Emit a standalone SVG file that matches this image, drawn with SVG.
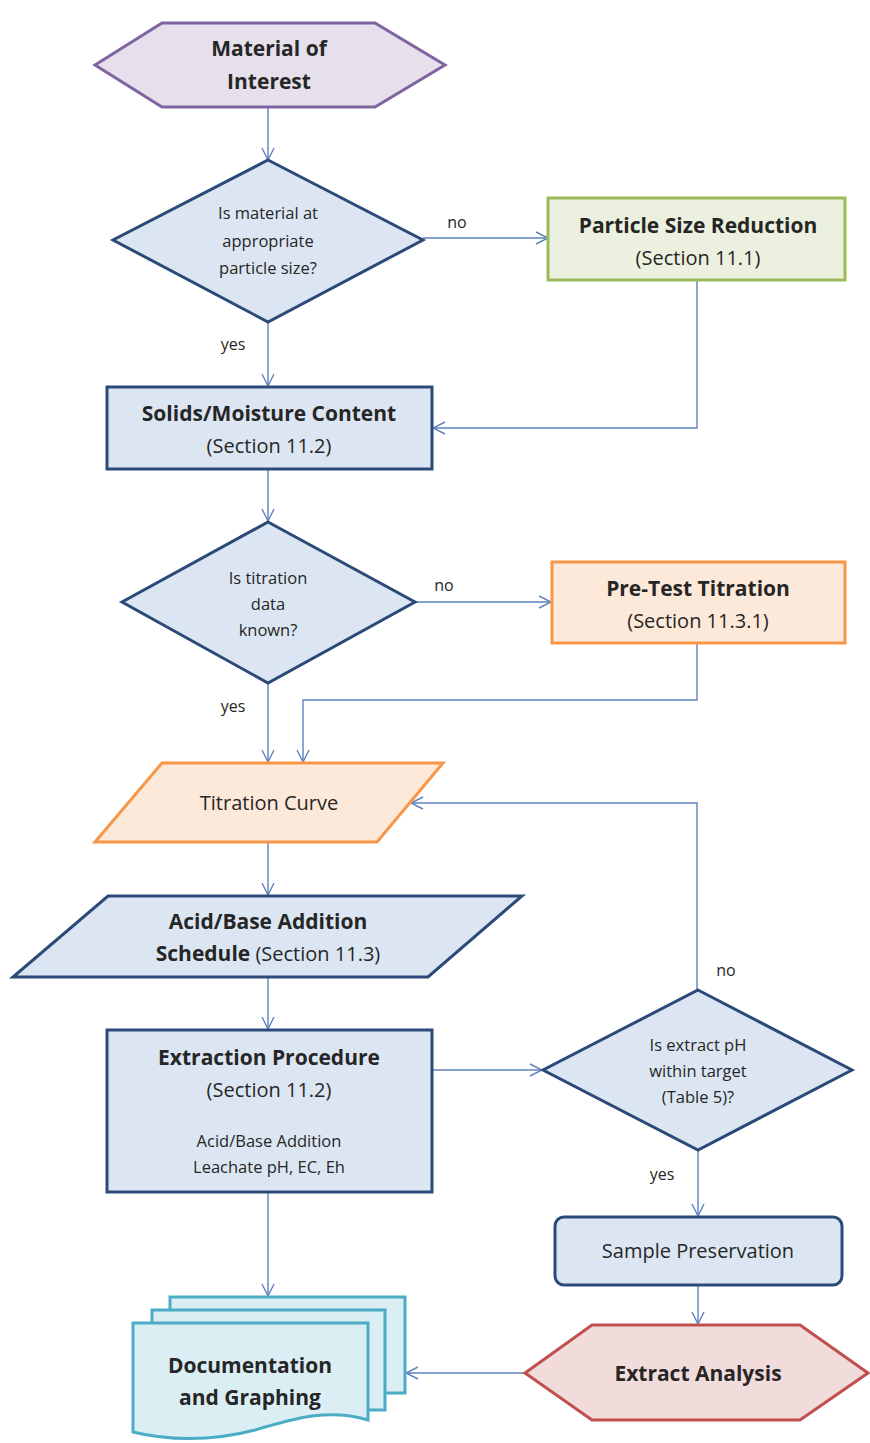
<svg xmlns="http://www.w3.org/2000/svg" width="870" height="1443" viewBox="0 0 870 1443">
<defs>
<style>
.t{font-family:"Open Sans","Noto Sans",sans-serif;fill:#262626;text-anchor:middle}
.b{font-weight:bold;font-size:21px}
.n{font-size:20px}
.s{font-size:16.5px}
.bl{fill:#dce6f2;stroke:#2b4a79;stroke-width:3}
.c{fill:none;stroke:#5f82bd;stroke-width:1.4}
.lbl{font-family:"Open Sans","Noto Sans",sans-serif;font-size:16px;fill:#262626}
</style>
<marker id="ah" viewBox="0 0 14 14" refX="13" refY="7" markerWidth="14" markerHeight="14" markerUnits="userSpaceOnUse" orient="auto">
<path d="M1,1 L13,7 L1,13" fill="none" stroke="#5f82bd" stroke-width="1.4"/>
</marker>
</defs>
<rect width="870" height="1443" fill="#ffffff"/>

<g id="connectors">
<path class="c" d="M268,107 V160" marker-end="url(#ah)"/>
<path class="c" d="M423,238 H548" marker-end="url(#ah)"/>
<path class="c" d="M697,280 V428 H433" marker-end="url(#ah)"/>
<path class="c" d="M268,322 V386" marker-end="url(#ah)"/>
<path class="c" d="M268,469 V521" marker-end="url(#ah)"/>
<path class="c" d="M415,602 H551" marker-end="url(#ah)"/>
<path class="c" d="M697,643 V700 H303 V762" marker-end="url(#ah)"/>
<path class="c" d="M268,683 V762" marker-end="url(#ah)"/>
<path class="c" d="M268,842 V895" marker-end="url(#ah)"/>
<path class="c" d="M268,977 V1029" marker-end="url(#ah)"/>
<path class="c" d="M432,1070 H542" marker-end="url(#ah)"/>
<path class="c" d="M697,990 V803 H411" marker-end="url(#ah)"/>
<path class="c" d="M698,1150 V1216" marker-end="url(#ah)"/>
<path class="c" d="M698,1285 V1324" marker-end="url(#ah)"/>
<path class="c" d="M525,1373 H406" marker-end="url(#ah)"/>
<path class="c" d="M268,1192 V1296" marker-end="url(#ah)"/>
<text class="lbl" x="457" y="228" text-anchor="middle">no</text>
<text class="lbl" x="233" y="350" text-anchor="middle">yes</text>
<text class="lbl" x="444" y="591" text-anchor="middle">no</text>
<text class="lbl" x="233" y="712" text-anchor="middle">yes</text>
<text class="lbl" x="726" y="976" text-anchor="middle">no</text>
<text class="lbl" x="662" y="1180" text-anchor="middle">yes</text>
</g>

<g id="material">
<polygon points="95,65 162,23 375,23 445,65 375,107 162,107" fill="#e5e0ec" stroke="#8064a2" stroke-width="3"/>
<text class="t b" x="269" y="56">Material of</text>
<text class="t b" x="269" y="89">Interest</text>
</g>

<g id="decision1">
<polygon points="268,160 423,240 268,322 113,240" class="bl"/>
<text class="t s" x="268" y="219">Is material  at</text>
<text class="t s" x="268" y="247">appropriate</text>
<text class="t s" x="268" y="274">particle size?</text>
</g>

<g id="particle">
<rect x="548" y="198" width="297" height="82" fill="#ebf1de" stroke="#9bbb59" stroke-width="3"/>
<text class="t b" x="698" y="233">Particle Size Reduction</text>
<text class="t n" x="698" y="265">(Section 11.1)</text>
</g>

<g id="solids">
<rect x="107" y="387" width="325" height="82" class="bl"/>
<text class="t b" x="269" y="421">Solids/Moisture Content</text>
<text class="t n" x="269" y="453">(Section 11.2)</text>
</g>

<g id="decision2">
<polygon points="268,522 415,602 268,683 122,602" class="bl"/>
<text class="t s" x="268" y="584">Is titration</text>
<text class="t s" x="268" y="610">data</text>
<text class="t s" x="268" y="636">known?</text>
</g>

<g id="pretest">
<rect x="552" y="562" width="293" height="81" fill="#fde9d9" stroke="#f79646" stroke-width="3"/>
<text class="t b" x="698" y="596">Pre-Test Titration</text>
<text class="t n" x="698" y="628">(Section 11.3.1)</text>
</g>

<g id="titration">
<polygon points="162,763 443,763 377,842 95,842" fill="#fde9d9" stroke="#f79646" stroke-width="3"/>
<text class="t n" x="269" y="810">Titration Curve</text>
</g>

<g id="schedule">
<polygon points="108,896 522,896 428,977 13,977" class="bl"/>
<text class="t b" x="268" y="929">Acid/Base Addition</text>
<text class="t" x="268" y="961"><tspan class="b">Schedule</tspan><tspan class="n"> (Section 11.3)</tspan></text>
</g>

<g id="extraction">
<rect x="107" y="1030" width="325" height="162" class="bl"/>
<text class="t b" x="269" y="1065">Extraction Procedure</text>
<text class="t n" x="269" y="1097">(Section 11.2)</text>
<text class="t s" x="269" y="1147">Acid/Base Addition</text>
<text class="t s" x="269" y="1173">Leachate pH, EC, Eh</text>
</g>

<g id="decision3">
<polygon points="698,990 852,1070 698,1150 543,1070" class="bl"/>
<text class="t s" x="698" y="1051">Is extract pH</text>
<text class="t s" x="698" y="1077">within target</text>
<text class="t s" x="698" y="1103">(Table 5)?</text>
</g>

<g id="preservation">
<rect x="555" y="1217" width="287" height="68" rx="9" class="bl"/>
<text class="t n" x="698" y="1258">Sample Preservation</text>
</g>

<g id="analysis">
<polygon points="525,1373 592,1325 800,1325 868,1373 800,1420 592,1420" fill="#f2dcdb" stroke="#c0504d" stroke-width="3"/>
<text class="t b" x="698" y="1381">Extract Analysis</text>
</g>

<g id="documentation">
<rect x="170" y="1297" width="235" height="96" fill="#dbeef3" stroke="#4bacc6" stroke-width="3"/>
<rect x="152" y="1310" width="233" height="100" fill="#dbeef3" stroke="#4bacc6" stroke-width="3"/>
<path d="M133,1323 H368 V1420 C330,1408 295,1418 255,1430 C210,1442 165,1440 133,1432 Z" fill="#dbeef3" stroke="#4bacc6" stroke-width="3"/>
<text class="t b" x="250" y="1373">Documentation</text>
<text class="t b" x="250" y="1405">and Graphing</text>
</g>
</svg>
